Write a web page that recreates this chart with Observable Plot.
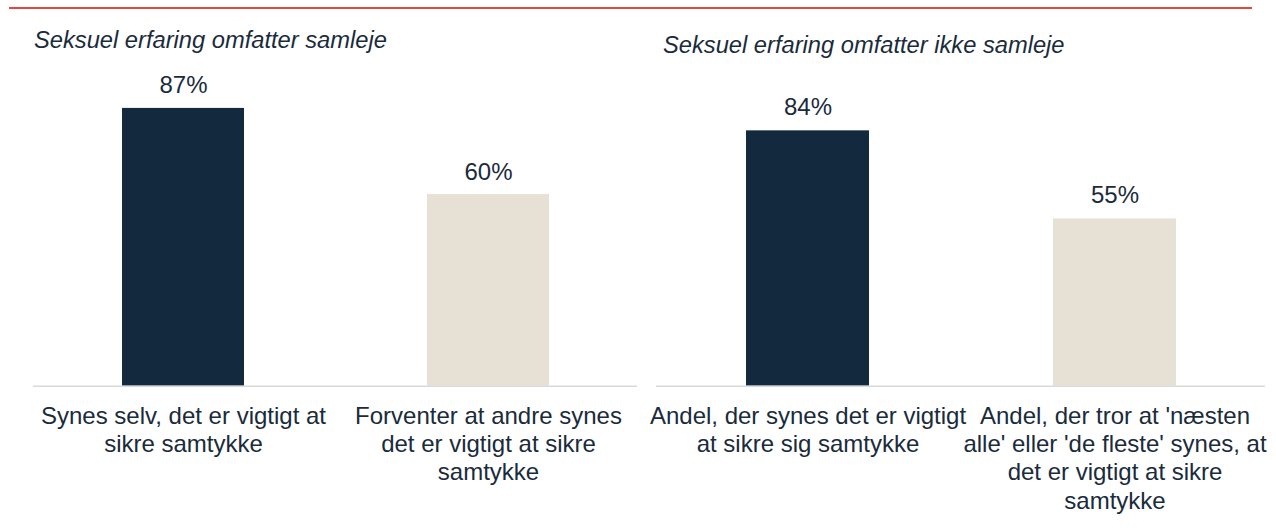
<!DOCTYPE html>
<html><head><meta charset="utf-8">
<script src="https://cdn.jsdelivr.net/npm/d3@7"></script>
<script src="https://cdn.jsdelivr.net/npm/@observablehq/plot@0.6"></script>
<style>
body{margin:0;background:#fff;}
#wrap{position:relative;width:1276px;height:531px;overflow:hidden;font-family:"Liberation Sans",Arial,sans-serif;color:#1a2b3c;background:#fff;}
.rule{position:absolute;left:9px;top:7px;width:1243px;height:2px;background:#e8463f;}
.title{position:absolute;font-style:italic;font-size:23.7px;line-height:24px;white-space:nowrap;}
.panel{position:absolute;top:0;}
</style></head><body>
<div id="wrap">
  <div class="rule"></div>
  <div class="title" id="tl" style="left:34px;top:27.7px;"></div>
  <div class="title" id="tr" style="left:663px;top:33px;"></div>
  <div class="panel" id="pl" style="left:0px;"></div>
  <div class="panel" id="pr" style="left:640px;"></div>
</div>
<script>
const leftTitle = "Seksuel erfaring omfatter samleje";
const rightTitle = "Seksuel erfaring omfatter ikke samleje";
const leftCategories = ["Synes selv, det er vigtigt at\nsikre samtykke", "Forventer at andre synes\ndet er vigtigt at sikre\nsamtykke"];
const leftValues = [87, 60];
const rightCategories = ["Andel, der synes det er vigtigt\nat sikre sig samtykke", "Andel, der tror at 'næsten\nalle' eller 'de fleste' synes, at\ndet er vigtigt at sikre\nsamtykke"];
const rightValues = [84, 55];
const valueLabels = (vals) => vals.map(v => v + "%");

const colors = ["#13293d", "#e6e0d5"];

document.getElementById("tl").textContent = leftTitle;
document.getElementById("tr").textContent = rightTitle;

function panel(cats, vals, opts) {
  const data = cats.map((c, i) => ({cat: c, value: vals[i], label: valueLabels(vals)[i], idx: i}));
  return Plot.plot({
    width: opts.width,
    height: 531,
    marginLeft: opts.marginLeft,
    marginRight: opts.marginRight,
    marginTop: opts.marginTop,
    marginBottom: 531 - 385.7,
    style: {fontFamily: '"Liberation Sans", Arial, sans-serif', fontSize: "24px", color: "#1a2b3c", background: "transparent", overflow: "visible"},
    x: {domain: cats, paddingInner: 0.6, paddingOuter: 0.29, label: null},
    y: {domain: [0, 100], axis: null},
    marks: [
      Plot.barY(data, {x: "cat", y: "value", fill: d => colors[d.idx]}),
      Plot.ruleY([0], {stroke: "#d9d9d9", strokeWidth: 1.6}),
      Plot.text(data, {x: "cat", y: "value", text: "label", lineAnchor: "bottom", dy: opts.dy, fill: "#1a2b3c", fontSize: 24}),
      Plot.axisX({tickSize: 0, tickPadding: 17.5, fontSize: 24, lineHeight: 1.18, label: null, fill: "#1a2b3c"})
    ]
  });
}

document.getElementById("pl").append(panel(leftCategories, leftValues, {width: 640, marginLeft: 33, marginRight: 3, marginTop: 66.4, dy: -15}));
document.getElementById("pr").append(panel(rightCategories, rightValues, {width: 636, marginLeft: 16, marginRight: 11, marginTop: 81.7, dy: -16}));
</script>
</body></html>
